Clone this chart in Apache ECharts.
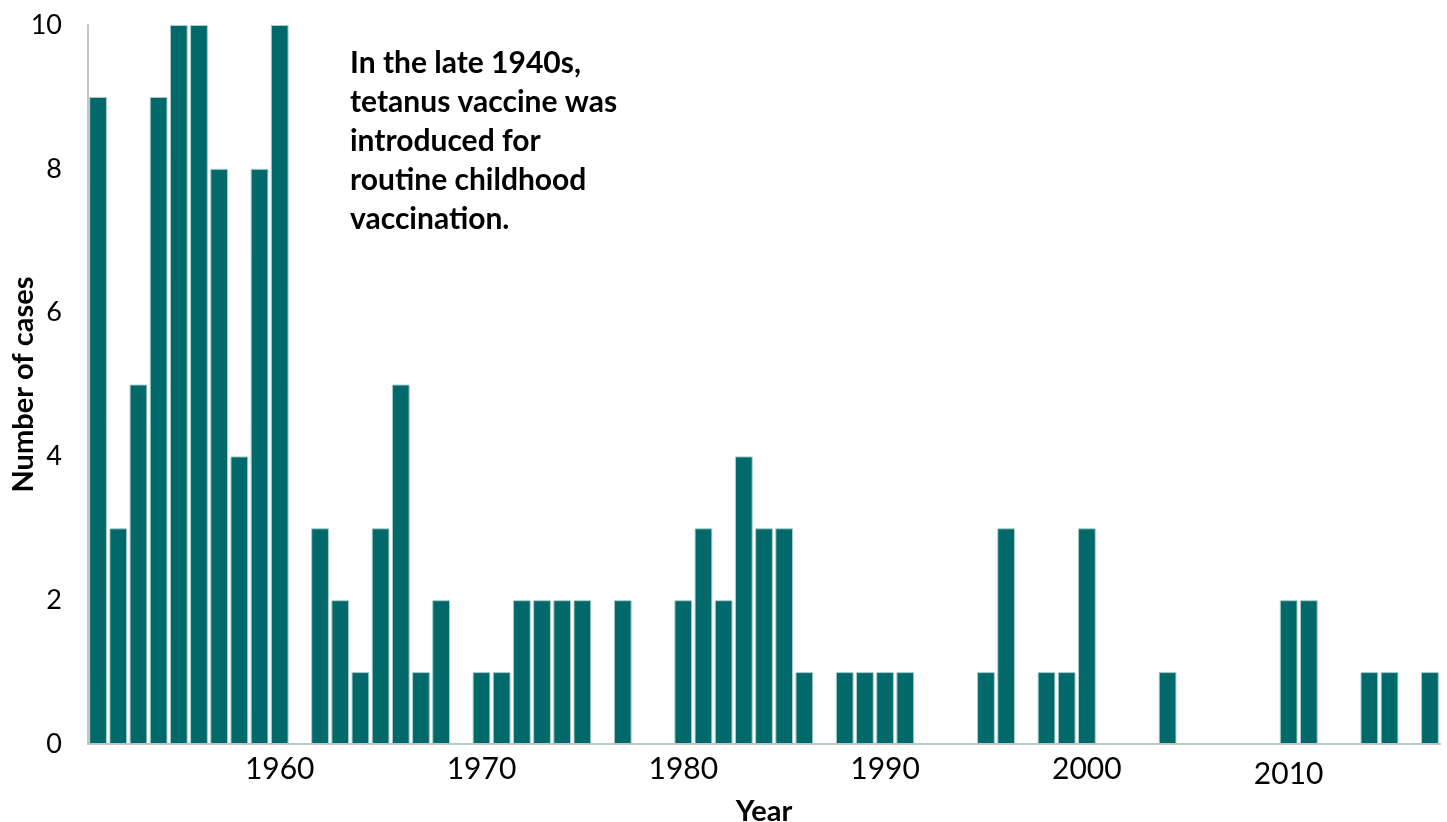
<!DOCTYPE html>
<html>
<head>
<meta charset="utf-8">
<title>Tetanus cases by year</title>
<script src="https://cdn.jsdelivr.net/npm/echarts@6/dist/echarts.min.js"></script>
<style>
  html, body { margin: 0; padding: 0; background: #ffffff; }
  #chart { width: 1447px; height: 822px; }
</style>
</head>
<body>
<div id="chart"></div>
<script>
// Reported tetanus cases per year, 1951–2017
const years = [];
for (let y = 1951; y <= 2017; y++) years.push(String(y));

const cases = [
  9, 3, 5, 9, 10, 10, 8, 4, 8, 10,   // 1951–1960
  0, 3, 2, 1, 3, 5, 1, 2, 0, 1,      // 1961–1970
  1, 2, 2, 2, 2, 0, 2, 0, 0, 2,      // 1971–1980
  3, 2, 4, 3, 3, 1, 0, 1, 1, 1,      // 1981–1990
  1, 0, 0, 0, 1, 3, 0, 1, 1, 3,      // 1991–2000
  0, 0, 0, 1, 0, 0, 0, 0, 0, 2,      // 2001–2010
  2, 0, 0, 1, 1, 0, 1                // 2011–2017
];

const yTicks = [0, 2, 4, 6, 8, 10];
const decadeLabels = ['1960', '1970', '1980', '1990', '2000', '2010'];

const noteLines = [
  'In the late 1940s,',
  'tetanus vaccine was',
  'introduced for',
  'routine childhood',
  'vaccination.'
];

const FONT = 'Lato, "Liberation Sans", sans-serif';
const BAR = '#01696a';

const chart = echarts.init(document.getElementById('chart'), null, { renderer: 'canvas' });

chart.setOption({
  animation: false,
  backgroundColor: '#ffffff',
  grid: { left: 88, right: 7, top: 25, bottom: 78, containLabel: false, outerBoundsMode: 'none' },
  xAxis: {
    type: 'category',
    data: years,
    boundaryGap: true,
    name: 'Year',
    nameLocation: 'middle',
    nameGap: 53,
    nameMoveOverlap: false,
    nameTextStyle: { fontFamily: FONT, fontWeight: 'bold', fontSize: 29, color: '#000' },
    axisLine: { show: true, lineStyle: { color: '#c4c4c4', width: 2 } },
    axisTick: { show: false },
    axisLabel: {
      interval: (idx, val) => decadeLabels.indexOf(val) !== -1,
      margin: 10,
      fontFamily: FONT,
      fontSize: 30,
      color: '#000',
      formatter: (val) => (val === '2010' ? '{lo|' + val + '}' : val),
      rich: { lo: { fontFamily: FONT, fontSize: 30, color: '#000', padding: [5, 0, 0, 0] } }
    },
    splitLine: { show: false }
  },
  yAxis: {
    type: 'value',
    min: yTicks[0],
    max: yTicks[yTicks.length - 1],
    interval: 2,
    name: 'Number of cases',
    nameLocation: 'middle',
    nameGap: 50,
    nameMoveOverlap: false,
    nameTextStyle: { fontFamily: FONT, fontWeight: 'bold', fontSize: 29, color: '#000' },
    axisLine: { show: true, lineStyle: { color: '#c4c4c4', width: 2 } },
    axisTick: { show: false },
    axisLabel: { margin: 26, fontFamily: FONT, fontSize: 27, color: '#000' },
    splitLine: { show: false }
  },
  series: [{
    type: 'bar',
    data: cases,
    barCategoryGap: '12%',
    itemStyle: { color: BAR, borderColor: '#a9cecc', borderWidth: 1 },
    emphasis: { disabled: true }
  }],
  graphic: [{
    type: 'text',
    left: 350,
    top: 44,
    style: {
      text: noteLines.join('\n'),
      fontFamily: FONT,
      fontWeight: 'bold',
      fontSize: 30,
      lineHeight: 39,
      fill: '#000'
    }
  }]
});
</script>
</body>
</html>
